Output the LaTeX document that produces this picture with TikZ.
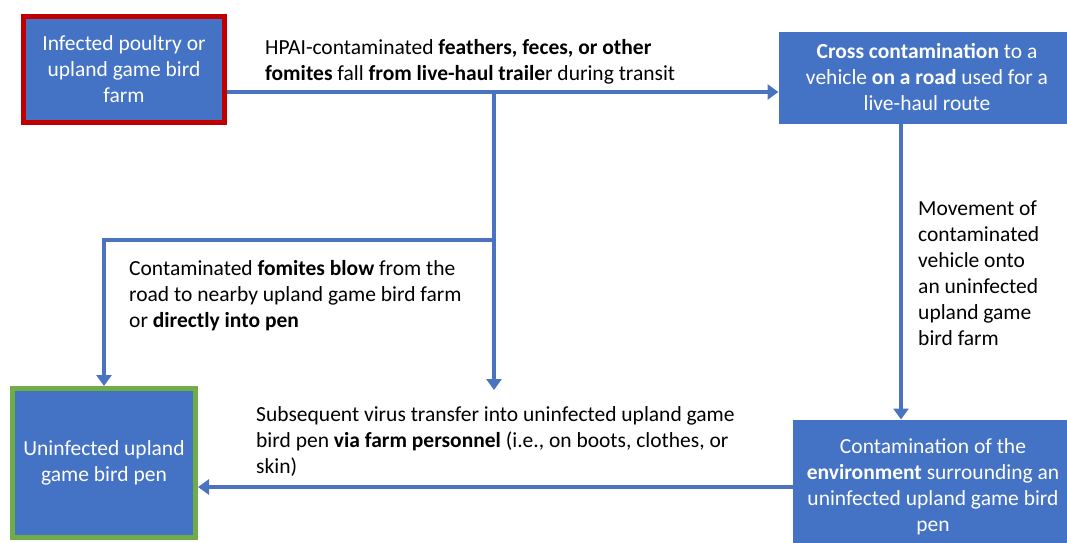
\documentclass[tikz,border=0pt]{standalone}
\usepackage{fontspec}
\setmainfont{Carlito}
\usetikzlibrary{arrows.meta}
\definecolor{boxblue}{HTML}{4472C4}
\definecolor{edgeblue}{HTML}{4A74C0}
\definecolor{srcred}{HTML}{C00000}
\definecolor{pengreen}{HTML}{70AD47}
\tikzset{
  x=1pt, y=-1pt,
  every node/.style={font=\fontsize{21.5}{26}\selectfont},
  stepbox/.style={rectangle, fill=boxblue, draw=boxblue, line width=1pt,
    text=white, align=center, inner sep=0pt},
  % multi-line labels: the base anchor sits on the last line's baseline
  lbl/.style={anchor=base west, align=left, inner sep=0pt, text=black},
  arr/.style={draw=edgeblue, line width=4pt,
    -{Triangle[width=15pt,length=11pt]}}
}
\begin{document}
\begin{tikzpicture}
\useasboundingbox (0,0) rectangle (1067,542);
% boxes
\node[stepbox, draw=srcred, line width=5pt, minimum width=201pt, minimum height=106pt]
  (infected) at (124,69.5) {Infected poultry or\\upland game bird\\farm};
\node[stepbox, minimum width=296pt, minimum height=91pt]
  (cross) at (927,77.5) {\textbf{Cross contamination} to a\\vehicle \textbf{on a road} used for a\\live-haul route};
\node[stepbox, draw=pengreen, line width=5pt, minimum width=183pt, minimum height=149pt]
  (pen) at (104,463) {Uninfected upland\\game bird pen};
\node[stepbox, minimum width=280pt, minimum height=134pt]
  (env) at (933,487) {Contamination of the\\\textbf{environment} surrounding an\\uninfected upland game bird\\pen};
% junctions and free ends
\coordinate (j1) at (494,92);
\coordinate (j2) at (494,240);
\coordinate (drop) at (494,390);
\coordinate (vx) at (901,0);
\coordinate (hy) at (0,487);
% connectors
\draw[arr] (infected.east |- j1) -- (cross.west |- j1);
\draw[arr] (j1) -- (drop);
\draw[arr] (j2) -| (pen.north);
\draw[arr] (cross.south -| vx) -- (env.north -| vx);
\draw[arr] (env.west |- hy) -- (pen.east |- hy);
% labels
\node[lbl] (l1) at (265,80) {HPAI-contaminated \textbf{feathers, feces, or other}\\\textbf{fomites} fall \textbf{from live-haul traile}r during transit};
\node[lbl] (l2) at (129,327) {Contaminated \textbf{fomites blow} from the\\road to nearby upland game bird farm\\or \textbf{directly into pen}};
\node[lbl] (l3) at (918,345) {Movement of\\contaminated\\vehicle onto\\an uninfected\\upland game\\bird farm};
\node[lbl] (l4) at (256,473) {Subsequent virus transfer into uninfected upland game\\bird pen \textbf{via farm personnel} (i.e., on boots, clothes, or\\skin)};
\end{tikzpicture}
\end{document}
